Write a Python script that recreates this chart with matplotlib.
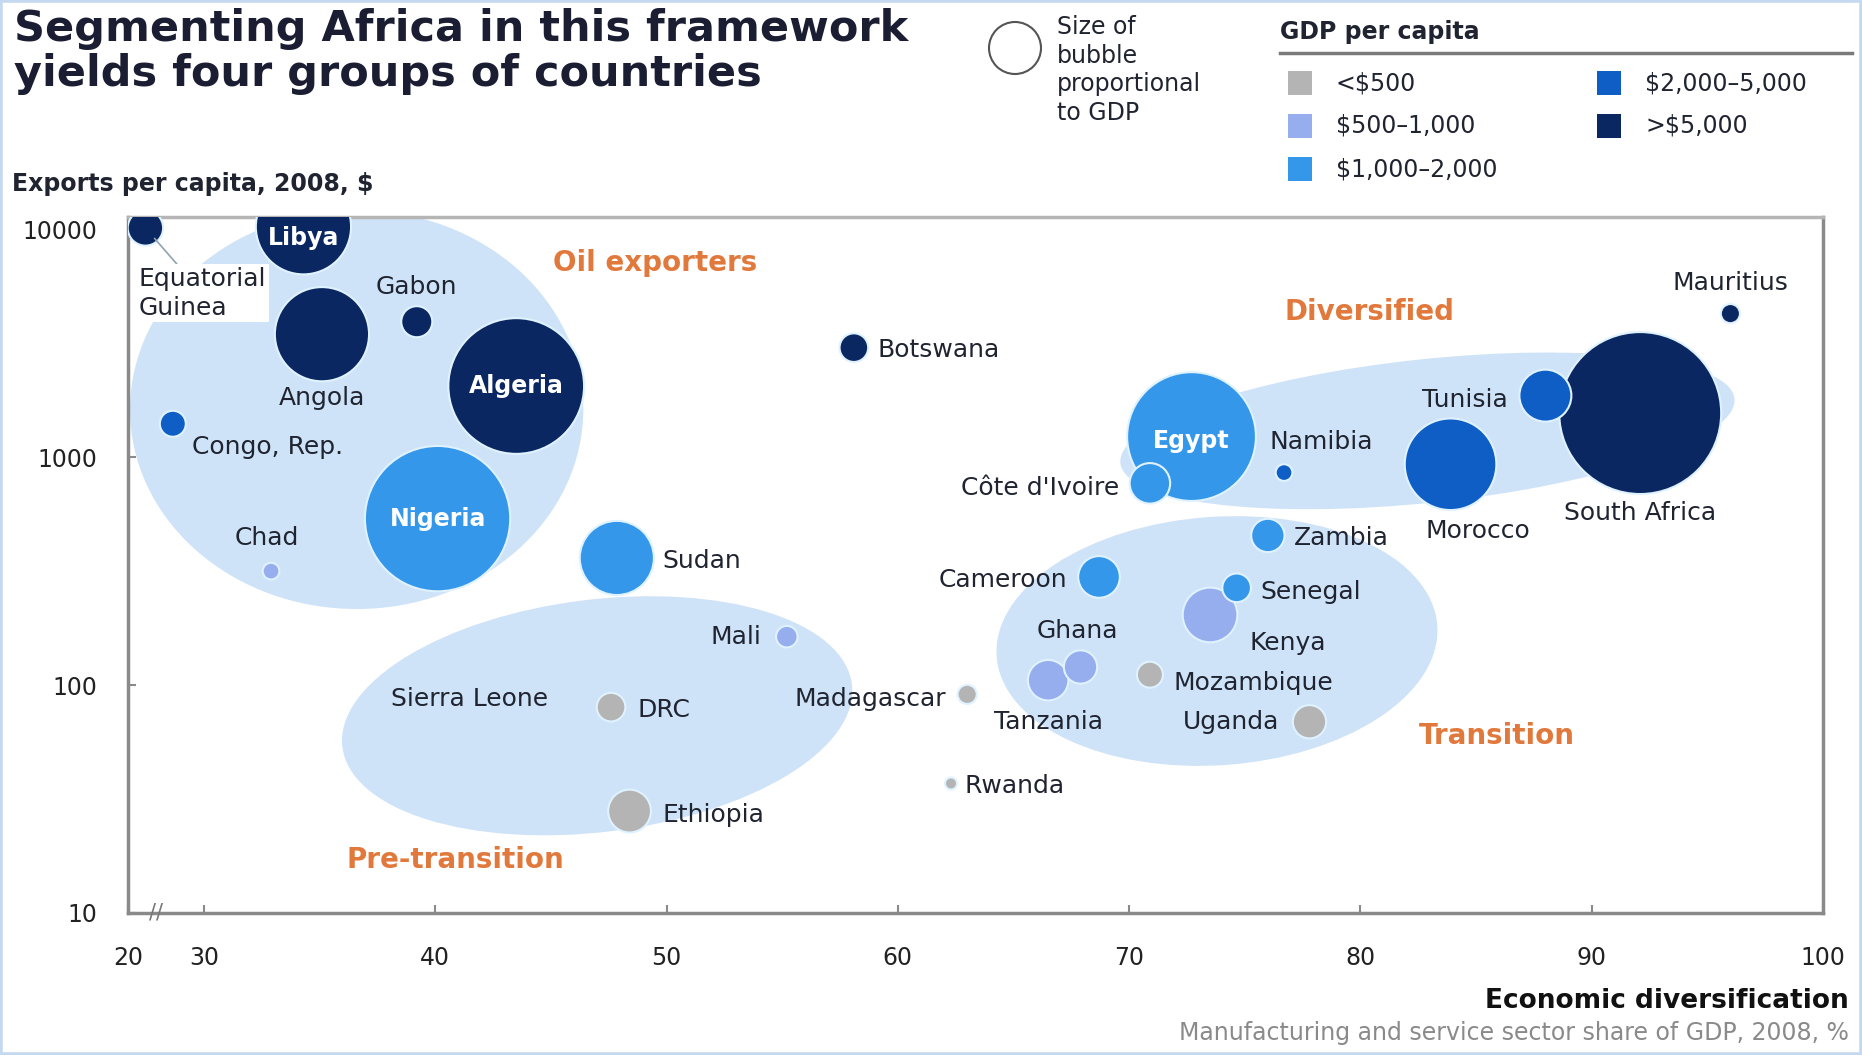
import numpy as np
import matplotlib.pyplot as plt
from matplotlib.patches import Ellipse, Circle, Rectangle
from matplotlib.lines import Line2D
from matplotlib.transforms import IdentityTransform

# ---- data ----
countries = ['Equatorial\nGuinea', 'Libya', 'Gabon', 'Angola', 'Algeria', 'Congo, Rep.',
             'Chad', 'Nigeria', 'Sudan', 'Botswana', 'Mauritius', 'South Africa',
             'Tunisia', 'Morocco', 'Egypt', 'Namibia', "Côte d'Ivoire", 'Zambia',
             'Cameroon', 'Senegal', 'Kenya', 'Ghana', 'Tanzania', 'Mozambique',
             'Uganda', 'Madagascar', 'Rwanda', 'Mali', 'DRC', 'Sierra Leone', 'Ethiopia']
diversification = [22.3, 34.3, 39.2, 35.1, 43.5, 25.9,
                   32.9, 40.1, 47.85, 58.1, 96.0, 92.1,
                   88.0, 83.9, 72.7, 76.7, 70.9, 76.0,
                   68.7, 74.65, 73.5, 67.9, 66.5, 70.9,
                   77.8, 63.0, 62.3, 55.2, 47.6, 41.5, 48.4]
exports_pc = [10120, 10240, 3925, 3460, 2050, 1400,
              316, 537, 361, 3020, 4260, 1560,
              1860, 930, 1230, 855, 767, 453,
              298, 267, 203, 120, 105, 111,
              69, 91, 37, 163, 80, 87, 28]
gdp_bn = [13, 94, 10, 92, 191, 7,
          2.9, 219, 57, 8.5, 3.8, 272,
          28, 87, 172, 2.9, 17, 11.5,
          18, 8.5, 31, 11.5, 17, 7,
          11.5, 3.8, 1.5, 4.8, 8.5, 0, 19]
# GDP per capita band index into band_labels
gdp_band = [4, 4, 4, 4, 4, 3,
            1, 2, 2, 4, 4, 4,
            3, 3, 2, 3, 2, 2,
            2, 2, 1, 1, 1, 0,
            0, 0, 0, 1, 0, 0, 0]

band_labels = ['<$500', '$500\u20131,000', '$1,000\u20132,000', '$2,000\u20135,000', '>$5,000']
band_colors = ['#b4b4b4', '#97aeee', '#3597ea', '#0f5ec6', '#0b2762']

group_names = ['Oil exporters', 'Diversified', 'Transition', 'Pre-transition']
group_label_x = [49.5, 80.4, 85.9, 40.85]
group_label_y = [7080, 4310, 59.7, 17.1]

# ---- layout / styling ----
# group regions: centre (x, y), width in x-units, height in decades, tilt (deg)
regions = [(36.6, 1616, 19.6, 1.75, 0),
           (82.9, 1303, 26.7, 0.63, 6),
           (73.8, 156, 19.1, 1.09, 4),
           (47.0, 73.3, 22.2, 1.02, 7)]

# label offsets in points: (dx, dy, ha)
label_pos = {
    'Equatorial\nGuinea': (-5, -47, 'left'), 'Libya': (0, -8, 'center'),
    'Gabon': (0, 25, 'center'), 'Angola': (0, -46, 'center'),
    'Algeria': (0, 0, 'center'), 'Congo, Rep.': (14, -17, 'left'),
    'Chad': (-3, 24, 'center'), 'Nigeria': (0, 0, 'center'),
    'Sudan': (33, -2, 'left'), 'Botswana': (17, -2, 'left'),
    'Mauritius': (0, 22, 'center'), 'South Africa': (0, -72, 'center'),
    'Tunisia': (-27, -3, 'right'), 'Morocco': (20, -48, 'center'),
    'Egypt': (0, -3, 'center'), 'Namibia': (27, 22, 'center'),
    "Côte d'Ivoire": (-22, -3, 'right'), 'Zambia': (19, -2, 'left'),
    'Cameroon': (-23, -2, 'right'), 'Senegal': (17, -3, 'left'),
    'Kenya': (56, -20, 'center'), 'Ghana': (-2, 26, 'center'),
    'Tanzania': (0, -30, 'center'), 'Mozambique': (17, -6, 'left'),
    'Uganda': (-22, 0, 'right'), 'Madagascar': (-15, -3, 'right'),
    'Rwanda': (10, -2, 'left'), 'Mali': (-18, 0, 'right'),
    'DRC': (19, -2, 'left'), 'Sierra Leone': (0, 0, 'center'),
    'Ethiopia': (24, -3, 'left'),
}
inside = {'Libya', 'Algeria', 'Nigeria', 'Egypt'}

TEXT = '#1f2430'
ORANGE = '#e2793c'
REGION = '#cfe3f8'
SPINE = '#8a8a8a'

plt.rcParams['font.family'] = ['DejaVu Sans']

fig = plt.figure(figsize=(18.62, 10.55), dpi=100)
ax = fig.add_axes([0.0687, 0.1346, 0.9103, 0.6597])

# broken x axis: 20-30 squeezed
BREAK, SQUEEZE = 30.0, 0.329


def fwd(x):
    x = np.asarray(x, dtype=float)
    return np.where(x >= BREAK, x, BREAK - (BREAK - x) * SQUEEZE)


def inv(u):
    u = np.asarray(u, dtype=float)
    return np.where(u >= BREAK, u, BREAK - (BREAK - u) / SQUEEZE)


ax.set_xscale('function', functions=(fwd, inv))
ax.set_yscale('log')
ax.set_xlim(20, 100)
ax.set_ylim(10, 11300)

# group regions drawn in screen space so they stay true ellipses
for cx, cy, wx, hdec, ang in regions:
    x0, y0 = ax.transData.transform((cx, cy))
    xr, _ = ax.transData.transform((cx + wx / 2, cy))
    _, yb = ax.transData.transform((cx, cy / 10 ** (hdec / 2)))
    _, yt = ax.transData.transform((cx, cy * 10 ** (hdec / 2)))
    ax.add_patch(Ellipse((x0, y0), 2 * (xr - x0), yt - yb, angle=ang, facecolor=REGION,
                         edgecolor='none', transform=IdentityTransform(), zorder=1))

for name, gx, gy in zip(group_names, group_label_x, group_label_y):
    ax.text(gx, gy, name, color=ORANGE, fontsize=20, fontweight='bold',
            ha='center', va='center', zorder=2)

# bubbles, biggest first
order = np.argsort(gdp_bn)[::-1]
x = np.array(diversification)[order]
y = np.array(exports_pc)[order]
s = np.array(gdp_bn)[order] * 50
c = [band_colors[gdp_band[i]] for i in order]
ax.scatter(x, y, s=s, c=c, edgecolors='#dff2ff', linewidths=1.5, zorder=3)

for name, xv, yv in zip(countries, diversification, exports_pc):
    dx, dy, ha = label_pos[name]
    if name in inside:
        ax.annotate(name, (xv, yv), xytext=(dx, dy), textcoords='offset points',
                    ha=ha, va='center', color='white', fontsize=17, fontweight='bold', zorder=5)
    elif name.startswith('Equatorial'):
        ax.annotate(name, (xv, yv), xytext=(dx, dy), textcoords='offset points',
                    ha=ha, va='center', color=TEXT, fontsize=18, zorder=5, linespacing=1.25,
                    bbox=dict(facecolor='white', edgecolor='none', pad=2),
                    arrowprops=dict(arrowstyle='-', color='#8fa3b0', lw=1.2,
                                    shrinkA=0, shrinkB=10))
    else:
        ax.annotate(name, (xv, yv), xytext=(dx, dy), textcoords='offset points',
                    ha=ha, va='center', color=TEXT, fontsize=18, zorder=5)

# axes styling
for side in ['left', 'bottom', 'right']:
    ax.spines[side].set_color(SPINE)
    ax.spines[side].set_linewidth(2.5)
ax.spines['top'].set_color('#b5b5b5')
ax.spines['top'].set_linewidth(2.5)
ax.set_xticks([20, 30, 40, 50, 60, 70, 80, 90, 100])
ax.set_xticklabels(['20', '30', '40', '50', '60', '70', '80', '90', '100'])
ax.set_yticks([10, 100, 1000, 10000])
ax.set_yticklabels(['10', '100', '1000', '10000'])
ax.minorticks_off()
ax.tick_params(axis='x', direction='in', length=6, width=1.5, color=SPINE,
               labelsize=17, pad=24, labelcolor='#222222')
ax.tick_params(axis='y', direction='in', length=6, width=1.5, color=SPINE,
               labelsize=17, pad=22, labelcolor='#222222')
# axis-break mark
ax.text(23.7, 10, '//', ha='center', va='center',
        fontsize=15, color='#777777', clip_on=False, zorder=6)

# titles and axis captions
fig.text(14 / 1862, 1 - 8 / 1055, 'Segmenting Africa in this framework\nyields four groups of countries',
         ha='left', va='top', fontsize=31, fontweight='bold', color='#1b1e33', linespacing=1.1)
fig.text(12 / 1862, 1 - 184 / 1055, 'Exports per capita, 2008, $', ha='left', va='center',
         fontsize=17, fontweight='bold', color=TEXT)
fig.text(1849 / 1862, 1 - 1001 / 1055, 'Economic diversification', ha='right', va='center',
         fontsize=19, fontweight='bold', color='#111111')
fig.text(1849 / 1862, 1 - 1033 / 1055, 'Manufacturing and service sector share of GDP, 2008, %',
         ha='right', va='center', fontsize=17, color='#8a8a8a')

# legend: bubble size note
H = 1055
fig.patches.append(Circle((1015, H - 48), 26, transform=IdentityTransform(),
                          facecolor='white', edgecolor='#555555', lw=1.5))
fig.text(1057 / 1862, 1 - 15 / 1055, 'Size of\nbubble\nproportional\nto GDP', ha='left', va='top',
         fontsize=17, color=TEXT, linespacing=1.25)

# legend: GDP per capita bands
fig.text(1280 / 1862, 1 - 32 / 1055, 'GDP per capita', ha='left', va='center',
         fontsize=17, fontweight='bold', color=TEXT)
fig.lines.append(Line2D([1280, 1852], [H - 53, H - 53], transform=IdentityTransform(),
                        color='#7a7a7a', lw=2.5))
slots = [(1300, 83), (1300, 126), (1300, 169), (1609, 83), (1609, 126)]
for (sx, sy), lab, col in zip(slots, band_labels, band_colors):
    fig.patches.append(Rectangle((sx - 12, H - sy - 12), 24, 24, transform=IdentityTransform(),
                                 facecolor=col, edgecolor='none'))
    fig.text((sx + 36) / 1862, 1 - sy / 1055, lab, ha='left', va='center',
             fontsize=17, color=TEXT)

# light blue frame around the whole graphic
fig.patches.append(Rectangle((0, 0), 1, 1, transform=fig.transFigure, fill=False,
                             edgecolor='#c4d9f0', lw=4))

fig.savefig('out.png', dpi=100)
